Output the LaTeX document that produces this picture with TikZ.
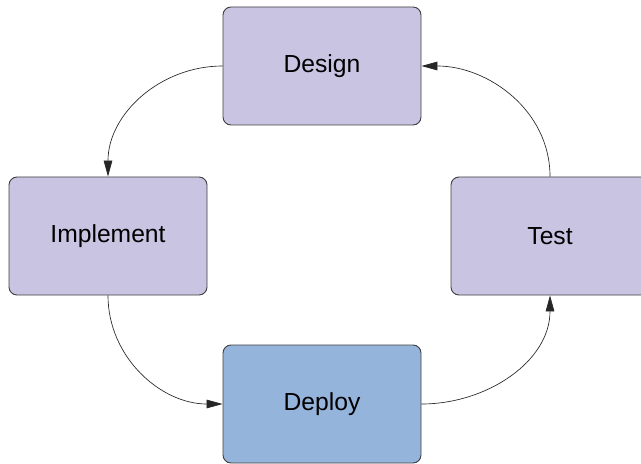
\documentclass[tikz,border=0pt]{standalone}
\usepackage{fontspec}
\setmainfont{Liberation Sans}
\usetikzlibrary{arrows.meta}
\definecolor{stagelav}{RGB}{200,196,226}
\definecolor{stageblue}{RGB}{149,180,220}
\tikzset{
  stage/.style={rectangle, draw=black!75, line width=0.7pt, rounded corners=6pt,
    minimum width=148.5pt, minimum height=88.5pt, fill=stagelav,
    font=\fontsize{18.5}{22}\selectfont},
  flow/.style={-{Triangle[length=12pt,width=6.5pt]}, draw=black!85, line width=0.5pt}
}
\begin{document}
\begin{tikzpicture}[x=0.75pt,y=-0.75pt]
  \clip (0,0) rectangle (641,463);
  % Nodes
  \node (design) at (322,66) [stage] {Design};
  \node (implement) at (108,236) [stage] {Implement};
  \node (test) at (550,236) [stage] {Test};
  \node (deploy) at (322,404) [stage, fill=stageblue] {Deploy};

  % Edges
  \draw[flow] (design.west) to [out=180,in=90] (implement.north);
  \draw[flow] (implement.south) to [out=270,in=180] (deploy.west);
  \draw[flow] (deploy.east) to [out=0,in=270] (test.south);
  \draw[flow] (test.north) to [out=90,in=0] (design.east);
\end{tikzpicture}
\end{document}
